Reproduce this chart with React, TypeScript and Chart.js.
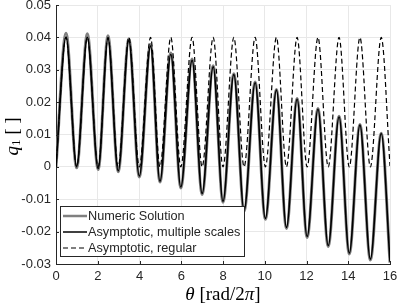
import React, { useEffect, useRef } from "react";
import { Chart, registerables } from "chart.js";
Chart.register(...registerables);

// theta positions of the extrema (troughs / peaks)
const multiTheta = [0, 0.48, 0.99, 1.5, 2.02, 2.49, 2.98, 3.49, 3.99, 4.53, 4.98, 5.5, 5.98, 6.52, 7.0, 7.53, 8.0, 8.52, 9.01, 9.54, 10.03, 10.56, 11.04, 11.55, 12.03, 12.55, 13.04, 13.56, 14.05, 14.56, 15.06, 15.58, 16.0];
const multiQ = [0, 0.0401, 0.0002, 0.04, -0.0005, 0.0396, -0.0012, 0.039, -0.0028, 0.0373, -0.0044, 0.0347, -0.0062, 0.0329, -0.0082, 0.0309, -0.0106, 0.0285, -0.0134, 0.026, -0.0159, 0.0237, -0.0187, 0.0209, -0.0215, 0.0178, -0.0243, 0.0154, -0.0266, 0.0129, -0.0285, 0.0103, -0.0293];

const numericTheta = [0, 0.48, 0.99, 1.5, 2.02, 2.49, 2.98, 3.49, 3.99, 4.53, 4.98, 5.5, 5.98, 6.52, 7.0, 7.53, 8.0, 8.52, 9.01, 9.54, 10.03, 10.56, 11.04, 11.55, 12.03, 12.55, 13.04, 13.56, 14.05, 14.56, 15.06, 15.58, 16.0];
const numericQ = [0, 0.0413, -0.0003, 0.0411, -0.0008, 0.0405, -0.0015, 0.0396, -0.0031, 0.0378, -0.0047, 0.0352, -0.0065, 0.0333, -0.0085, 0.0312, -0.0109, 0.0288, -0.0137, 0.0262, -0.0162, 0.0239, -0.019, 0.0211, -0.0218, 0.018, -0.0246, 0.0156, -0.0269, 0.0131, -0.0288, 0.0104, -0.0296];

const regularTheta = [0, 0.48, 0.99, 1.5, 2.02, 2.49, 2.98, 3.49, 3.99, 4.53, 4.98, 5.5, 5.98, 6.52, 7.0, 7.53, 8.0, 8.52, 9.01, 9.54, 10.03, 10.56, 11.04, 11.55, 12.03, 12.55, 13.04, 13.56, 14.05, 14.56, 15.06, 15.58, 16.0];
const regularQ = [0, 0.04, 0, 0.04, 0, 0.04, 0, 0.04, 0, 0.04, 0, 0.04, 0, 0.04, 0, 0.04, 0, 0.04, 0, 0.04, 0, 0.04, 0, 0.04, 0, 0.04, 0, 0.04, 0, 0.04, 0, 0.04, 0.0003];

const seriesNames = ["Numeric Solution", "Asymptotic, multiple scales", "Asymptotic, regular"];
const xTickValues = [0, 2, 4, 6, 8, 10, 12, 14, 16];
const yTickValues = [-0.03, -0.02, -0.01, 0, 0.01, 0.02, 0.03, 0.04, 0.05];
const yTickLabels = ["-0.03", "-0.02", "-0.01", "0", "0.01", "0.02", "0.03", "0.04", "0.05"];

const TEXT = "#262626";
const SANS = '"Liberation Sans", Arial, Helvetica, sans-serif';
const SERIF = '"Liberation Serif", "DejaVu Serif", serif';
const GRAY = "#808080";
const DASH = [5, 3];

const zip = (xs: number[], ys: number[]) => xs.map((x, i) => ({ x, y: ys[i] }));

type Piece = { t: string; f: string; dy?: number };
function drawPieces(ctx: CanvasRenderingContext2D, pieces: Piece[], cx: number, cy: number) {
  let total = 0;
  const widths = pieces.map((p) => {
    ctx.font = p.f;
    const w = ctx.measureText(p.t).width;
    total += w;
    return w;
  });
  let x = cx - total / 2;
  ctx.textAlign = "left";
  ctx.textBaseline = "middle";
  pieces.forEach((p, i) => {
    ctx.font = p.f;
    ctx.fillText(p.t, x, cy + (p.dy || 0));
    x += widths[i];
  });
}

const overlayPlugin = {
  id: "overlay",
  afterDraw(chart: any) {
    const ctx: CanvasRenderingContext2D = chart.ctx;
    const a = chart.chartArea;
    const xs = chart.scales.x;
    const ys = chart.scales.y;
    ctx.save();
    // inward tick marks
    ctx.strokeStyle = TEXT;
    ctx.lineWidth = 1;
    ctx.beginPath();
    xTickValues.forEach((v) => {
      const px = Math.round(xs.getPixelForValue(v)) + 0.5;
      ctx.moveTo(px, a.bottom);
      ctx.lineTo(px, a.bottom - 3);
    });
    yTickValues.forEach((v) => {
      const py = Math.round(ys.getPixelForValue(v)) + 0.5;
      ctx.moveTo(a.left, py);
      ctx.lineTo(a.left + 3, py);
    });
    ctx.stroke();

    // legend box
    const lx = a.left + 4, ly = a.bottom - 58, lw = 184, lh = 50;
    ctx.fillStyle = "#ffffff";
    ctx.fillRect(lx, ly, lw, lh);
    ctx.strokeStyle = TEXT;
    ctx.lineWidth = 1;
    ctx.strokeRect(lx + 0.5, ly + 0.5, lw, lh);
    const rows = [ly + 10, ly + 26, ly + 42];
    const styles = [
      { c: GRAY, w: 2.5, d: [] as number[] },
      { c: "#000000", w: 1.5, d: [] as number[] },
      { c: "#000000", w: 1.2, d: DASH },
    ];
    rows.forEach((ry, i) => {
      ctx.beginPath();
      ctx.strokeStyle = styles[i].c;
      ctx.lineWidth = styles[i].w;
      ctx.setLineDash(styles[i].d);
      ctx.moveTo(lx + 3, ry);
      ctx.lineTo(lx + 27, ry);
      ctx.stroke();
      ctx.setLineDash([]);
      ctx.fillStyle = TEXT;
      ctx.font = `12.7px ${SANS}`;
      ctx.textAlign = "left";
      ctx.textBaseline = "middle";
      ctx.fillText(seriesNames[i], lx + 28, ry + 0.5);
    });

    // x title
    ctx.fillStyle = "#000000";
    const cxT = (a.left + a.right) / 2;
    drawPieces(ctx, [
      { t: "θ", f: `italic 19px ${SERIF}` },
      { t: " [rad/2", f: `19px ${SERIF}` },
      { t: "π", f: `italic 19px ${SERIF}` },
      { t: "]", f: `19px ${SERIF}` },
    ], cxT, 295);

    // y title
    ctx.save();
    ctx.translate(13, (a.top + a.bottom) / 2 + 2);
    ctx.rotate(-Math.PI / 2);
    drawPieces(ctx, [
      { t: "q", f: `italic 19px ${SERIF}` },
      { t: "1", f: `13px ${SERIF}`, dy: 4 },
      { t: " [ ]", f: `19px ${SERIF}` },
    ], 0, 0);
    ctx.restore();
    ctx.restore();
  },
};

export default function App() {
  const ref = useRef<HTMLCanvasElement | null>(null);
  useEffect(() => {
    document.body.style.margin = "0";
    const canvas = ref.current!;
    const chart = new Chart(canvas, {
      type: "line",
      data: {
        datasets: [
          {
            label: seriesNames[0],
            data: zip(numericTheta, numericQ),
            borderColor: GRAY,
            borderWidth: 3,
            pointRadius: 0,
            cubicInterpolationMode: "monotone",
            fill: false,
            order: 3,
          },
          {
            label: seriesNames[1],
            data: zip(multiTheta, multiQ),
            borderColor: "#000000",
            borderWidth: 1.6,
            pointRadius: 0,
            cubicInterpolationMode: "monotone",
            fill: false,
            order: 2,
          },
          {
            label: seriesNames[2],
            data: zip(regularTheta, regularQ),
            borderColor: "#000000",
            borderWidth: 1.2,
            borderDash: DASH,
            pointRadius: 0,
            cubicInterpolationMode: "monotone",
            fill: false,
            order: 1,
          },
        ],
      },
      options: {
        animation: false,
        responsive: false,
        devicePixelRatio: 1,
        parsing: true,
        layout: { padding: { top: 5, right: 9, left: 0, bottom: 0 } },
        plugins: { legend: { display: false }, tooltip: { enabled: false } },
        scales: {
          x: {
            type: "linear",
            min: 0,
            max: 16,
            afterBuildTicks: (s: any) => { s.ticks = xTickValues.map((v) => ({ value: v })); },
            ticks: { color: TEXT, font: { family: SANS, size: 13 }, padding: 5, maxRotation: 0 },
            grid: { color: "#e8e8e8", drawTicks: false, lineWidth: 1 },
            border: { display: true, color: TEXT, width: 1 },
            afterFit: (s: any) => { s.height = 41; s.paddingLeft = 0; s.paddingRight = 0; },
          },
          y: {
            type: "linear",
            min: -0.03,
            max: 0.05,
            afterBuildTicks: (s: any) => { s.ticks = yTickValues.map((v) => ({ value: v })); },
            ticks: {
              color: TEXT,
              font: { family: SANS, size: 13 },
              padding: 5,
              callback: (v: any) => {
                const i = yTickValues.findIndex((t) => Math.abs(t - Number(v)) < 1e-9);
                return i >= 0 ? yTickLabels[i] : "";
              },
            },
            grid: { color: "#e8e8e8", drawTicks: false, lineWidth: 1 },
            border: { display: true, color: TEXT, width: 1 },
            afterFit: (s: any) => { s.width = 56; s.paddingTop = 0; s.paddingBottom = 0; },
          },
        },
      },
      plugins: [overlayPlugin],
    } as any);
    return () => chart.destroy();
  }, []);
  return (
    <div style={{ width: 399, height: 305, background: "#fff" }}>
      <canvas ref={ref} width={399} height={305} style={{ width: 399, height: 305, display: "block" }} />
    </div>
  );
}
